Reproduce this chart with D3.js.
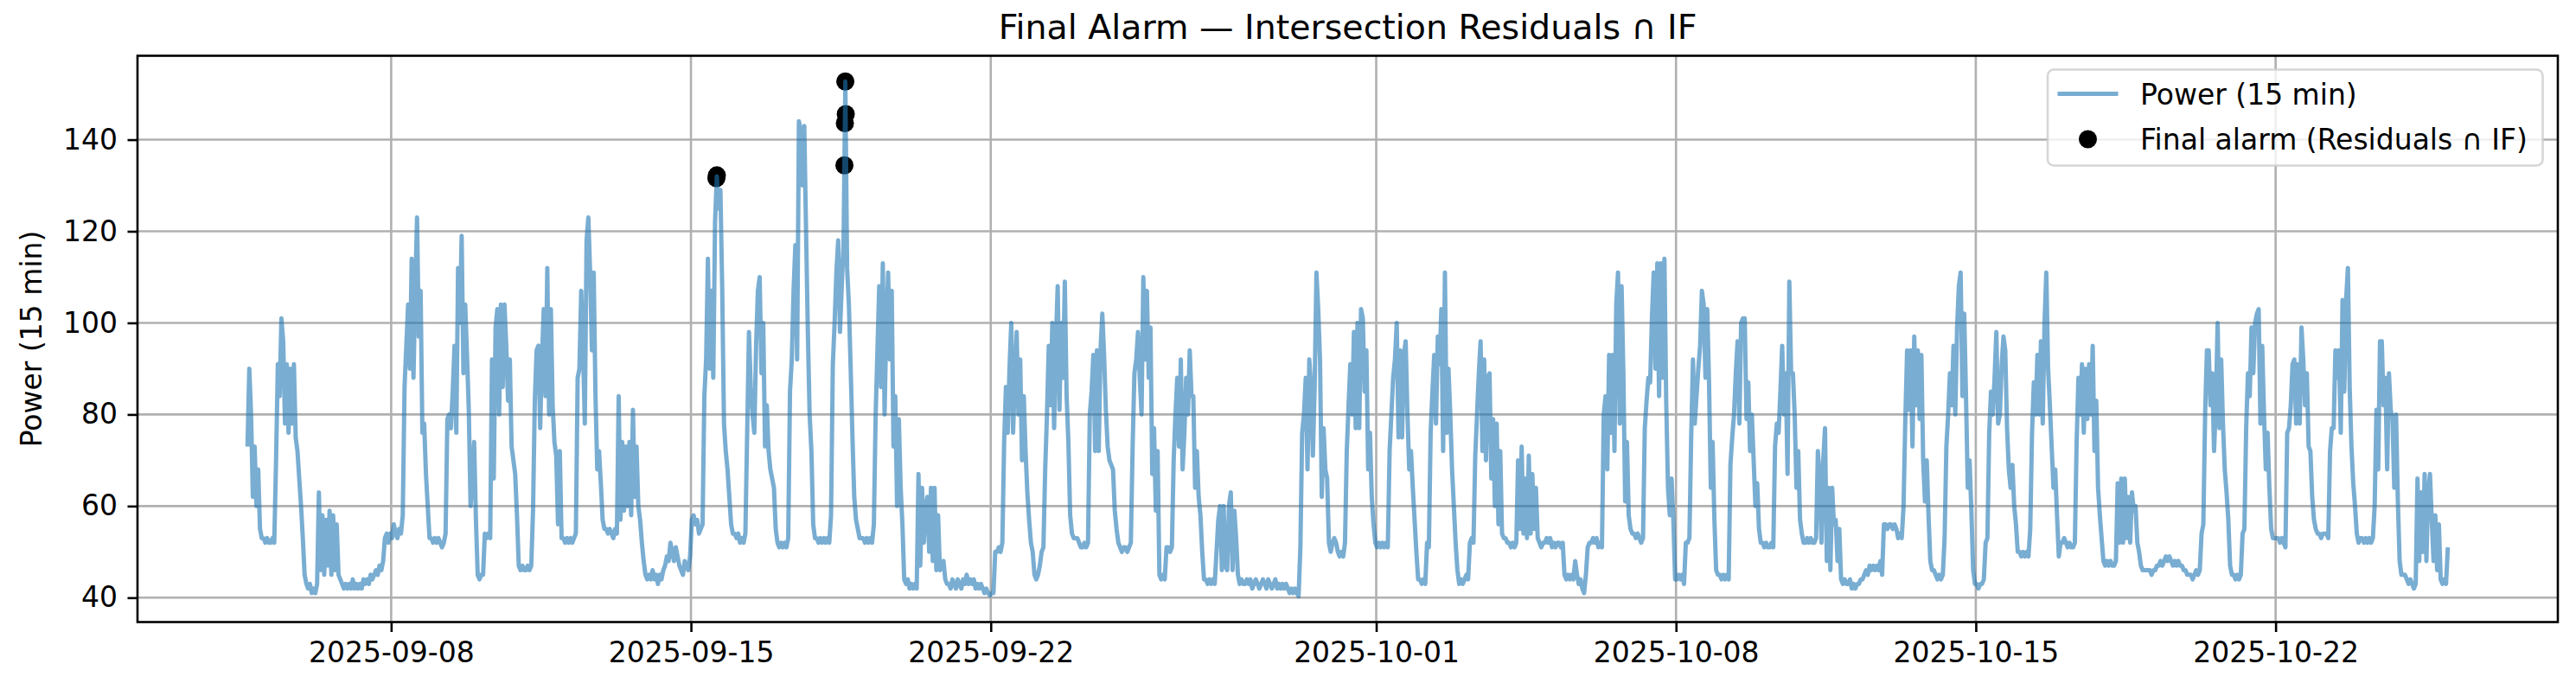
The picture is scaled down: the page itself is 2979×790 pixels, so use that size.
<!DOCTYPE html>
<html>
<head>
<meta charset="utf-8">
<script src="https://cdn.jsdelivr.net/npm/d3@7"></script>
<style>
body{margin:0;background:#fff;}
text{font-family:"DejaVu Sans",sans-serif;fill:#000;}
</style>
</head>
<body>
<svg id="chart" width="2979" height="790"></svg>
<script>
// hourly readings, value at hh:30 (UTC), first one 2025-09-04 15:30
var seriesStart=Date.UTC(2025,8,4,15,30);

var powerSep04to07=[
	73,90,80,62,73,60,68,55,53,
	53,52,53,52,52,53,52,70,91,84,101,96,78,91,76,90,78,91,75,72,66,60,53,45,
	43,42,43,41,42,41,43,63,46,58,45,57,47,59,45,58,46,56,45,44,43,42,43,42,
	43,42,44,42,43,42,43,42,44,43,44,43,45,44,45,46,45,47,46,48,53,54,52,54
];
var powerSep08to14=[
	53,56,54,53,55,54,58,86,95,104,90,114,88,107,123,97,107,76,78,67,60,53,53,52,
	53,52,53,52,51,52,54,79,80,77,85,95,76,112,100,119,89,104,93,81,60,66,74,57,
	45,44,45,45,54,53,54,53,92,66,99,103,80,104,86,104,95,83,92,73,70,67,58,47,
	46,47,46,46,47,46,47,59,83,94,95,77,92,103,84,112,80,103,82,74,71,56,72,53,
	53,52,53,52,53,52,53,54,88,90,107,95,78,118,123,111,94,111,84,68,72,65,57,55,
	55,54,55,54,53,55,54,84,57,74,59,73,60,74,58,81,62,73,60,57,52,48,45,44,
	45,44,46,44,45,43,45,44,46,47,49,48,52,50,48,51,49,47,46,45,48,47,46,49
];
var powerSep15to21=[
	57,58,56,57,54,55,56,84,92,114,90,107,88,122,132,125,129,108,78,72,68,62,56,54,
	54,53,54,52,53,52,54,76,98,86,80,76,95,107,110,89,100,73,82,72,68,66,64,55,
	52,51,52,51,52,51,53,85,92,107,117,92,144,142,130,143,120,98,80,72,56,53,53,52,
	53,52,53,52,53,52,58,91,100,111,118,98,108,117,152.7,112,104,90,75,62,57,55,53,53,
	53,52,53,52,53,52,56,80,94,108,86,113,80,100,111,92,107,73,84,60,79,64,56,44,
	43,44,42,43,42,43,42,67,47,64,52,60,62,50,64,48,64,46,58,46,47,48,44,43,
	43,42,44,43,42,44,43,42,44,43,45,43,44,43,44,42,43,42,43,42,41,42,41,40.5
];
var powerSep22to28=[
	41,41,50,50,51,50,52,74,86,76,90,100,76,88,98,80,92,70,84,72,63,57,52,50,
	45,44,45,47,50,51,68,80,95,82,100,77,96,108,81,100,88,109,84,74,58,54,53,53,
	53,52,51,51,52,51,52,80,85,93,72,94,72,94,102,93,81,73,70,69,68,59,55,52,
	51,50,51,51,50,51,52,73,89,92,98,88,80,110,92,107,88,99,67,77,59,72,45,44,
	45,44,51,51,50,51,70,80,88,73,92,68,76,88,80,94,84,84,64,72,62,58,50,44,
	44,43,44,43,44,43,50,57,60,46,60,47,46,60,63,46,59,53,45,43,44,43,43,44,
	43,44,42,43,44,43,42,43,44,43,42,44,43,42,43,44,42,43,42,43,42,43,42,41
];
var powerSep29toOct05=[
	42,41,42,41,40.3,51,76,80,88,68,92,86,71,86,111,103,92,62,77,68,66,52,50,52,
	53,52,50,49,50,49,52,72,82,91,80,98,77,100,77,103,101,85,94,68,76,62,56,52,
	51,52,51,52,51,52,51,72,80,88,92,100,75,94,75,93,96,80,68,72,64,57,50,44,
	44,43,44,43,52,51,76,85,93,78,97,91,103,72,111,76,90,80,68,60,52,46,43,44,
	43,44,45,44,52,53,52,71,80,89,96,72,92,70,88,89,66,79,60,78,56,72,54,53,
	53,52,52,51,52,51,52,70,55,73,54,66,53,71,54,67,55,64,53,52,51,52,52,53,
	52,53,51,52,51,52,52,51,52,45,44,45,44,45,44,48,45,43,44,42,41,45,51,52
];
var powerOct06to12=[
	52,53,52,53,51,52,51,80,84,68,93,76,93,72,104,111,78,108,89,61,74,58,55,54,
	54,53,54,53,52,53,77,83,88,87,101,111,90,113,84,113,88,114,83,64,58,66,57,44,
	44,45,44,45,43,52,52,53,75,92,78,84,90,95,107,104,88,103,87,64,74,57,46,45,
	45,44,45,44,45,44,69,75,80,89,96,78,100,101,101,79,87,72,80,70,60,65,55,52,
	52,51,52,51,51,52,51,73,78,76,85,95,80,89,67,109,89,89,80,64,72,57,54,52,
	52,53,52,53,52,52,53,72,66,52,70,77,48,64,46,64,56,57,48,55,44,43,44,43,
	43,44,42,43,42,43,43,44,44,45,46,45,47,46,47,46,47,46,48,45,56,56,55,56
];
var powerOct13to19=[
	56,55,56,55,53,54,53,60,79,94,81,94,73,97,82,94,79,93,70,61,70,58,48,46,
	46,45,44,45,44,45,53,73,80,89,82,95,80,99,108,111,84,102,84,64,70,59,46,43,
	43,42,43,43,44,52,53,76,85,80,88,98,78,80,91,97,94,77,68,64,69,60,56,50,
	50,49,50,49,50,49,55,76,87,80,93,80,96,78,100,111,90,82,73,64,68,58,49,52,
	52,53,52,51,52,51,51,52,74,88,80,91,76,90,79,91,80,95,72,83,64,58,53,48,
	47,48,47,48,47,47,48,65,52,66,52,66,53,62,52,63,59,60,52,50,47,46,46,46,
	46,46,45,46,46,47,47,48,47,48,49,48,49,48,47,48,47,48,47,47,46,46,45,45
];
var powerOct20to26=[
	45,44,45,46,45,46,54,56,80,94,94,82,89,72,82,100,77,92,78,68,63,57,47,45,
	45,44,45,44,45,54,55,77,89,84,99,89,100,102,103,78,95,80,68,76,64,55,53,53,
	53,53,52,53,52,51,76,77,82,91,92,78,91,78,99,92,82,89,73,72,62,57,55,54,
	54,53,54,54,54,53,72,77,77,94,88,94,76,105,85,105,112,86,73,65,60,54,52,53,
	53,52,53,52,53,52,53,60,81,68,96,96,82,88,68,89,81,79,64,80,61,48,45,45,
	45,44,43,44,43,42,43,66,48,63,50,67,48,63,67,57,48,58,46,56,44,43,44,43,
	51
];

// points flagged by both detectors
var alarmTimes=["2025-09-15T14:15","2025-09-15T14:30","2025-09-18T14:00","2025-09-18T14:15","2025-09-18T14:30","2025-09-18T14:45"];
var alarmValues=[131.6,132.2,134.4,143.6,152.7,145.6];

var xTickDates=["2025-09-08","2025-09-15","2025-09-22","2025-10-01","2025-10-08","2025-10-15","2025-10-22"];
var yTickValues=[40,60,80,100,120,140];

var titleText="Final Alarm — Intersection Residuals ∩ IF";
var yLabelText="Power (15 min)";
var legendLabels=["Power (15 min)","Final alarm (Residuals ∩ IF)"];

/////////////////////////// build series
var parseTime=d3.utcParse("%Y-%m-%dT%H:%M");
var parseDay=d3.utcParse("%Y-%m-%d");
var hour=3600*1000;

var powerValues=[].concat(powerSep04to07,powerSep08to14,powerSep15to21,powerSep22to28,
	powerSep29toOct05,powerOct06to12,powerOct13to19,powerOct20to26);
var powerData=powerValues.map(function(v,i){
	return {t:new Date(seriesStart+i*hour),v:v};
});
var alarmData=alarmTimes.map(function(s,i){
	return {t:parseTime(s),v:alarmValues[i]};
});

/////////////////////////// layout
var W=2979,H=790;
var margin={left:159,right:21,top:64.5,bottom:70.5};
var plotW=W-margin.left-margin.right;
var plotH=H-margin.top-margin.bottom;
var fontTick=33,fontTitle=39.5;
var tickLen=11.5,tickPad=11.5,lineW=2.6;

var svg=d3.select("#chart");
svg.append("rect").attr("width",W).attr("height",H).attr("fill","#fff");
var g=svg.append("g").attr("transform","translate("+margin.left+","+margin.top+")");

// matplotlib style 5% padding around the data
var tExt=d3.extent(powerData,function(d){return d.t;});
var tPad=(tExt[1]-tExt[0])*0.05;
var allV=powerValues.concat(alarmValues);
var vMin=d3.min(allV),vMax=d3.max(allV),vPad=(vMax-vMin)*0.05;

var x=d3.scaleUtc().domain([new Date(+tExt[0]-tPad),new Date(+tExt[1]+tPad)]).range([0,plotW]);
var y=d3.scaleLinear().domain([vMin-vPad,vMax+vPad]).range([plotH,0]);
var xTicks=xTickDates.map(parseDay);

//grid
g.append("g").attr("class","gridX")
	.selectAll("line").data(xTicks).enter().append("line")
	.attr("x1",function(d){return x(d);}).attr("x2",function(d){return x(d);})
	.attr("y1",0).attr("y2",plotH)
	.attr("stroke","#b0b0b0").attr("stroke-width",lineW);
g.append("g").attr("class","gridY")
	.selectAll("line").data(yTickValues).enter().append("line")
	.attr("y1",function(d){return y(d);}).attr("y2",function(d){return y(d);})
	.attr("x1",0).attr("x2",plotW)
	.attr("stroke","#b0b0b0").attr("stroke-width",lineW);

//alarm dots go under the line, like matplotlib collections
g.append("g").attr("class","alarms")
	.selectAll("circle").data(alarmData).enter().append("circle")
	.attr("cx",function(d){return x(d.t);})
	.attr("cy",function(d){return y(d.v);})
	.attr("r",10.5)
	.attr("fill","#000");

var line=d3.line().x(function(d){return x(d.t);}).y(function(d){return y(d.v);});
g.append("path").datum(powerData)
	.attr("d",line)
	.attr("fill","none")
	.attr("stroke","#1f77b4")
	.attr("stroke-opacity",0.6)
	.attr("stroke-width",5)
	.attr("stroke-linejoin","round");

//axes
var xAxis=d3.axisBottom(x).tickValues(xTicks).tickFormat(d3.utcFormat("%Y-%m-%d"))
	.tickSize(tickLen).tickPadding(tickPad);
var yAxis=d3.axisLeft(y).tickValues(yTickValues).tickFormat(d3.format("d"))
	.tickSize(tickLen).tickPadding(tickPad);

var gx=g.append("g").attr("transform","translate(0,"+plotH+")").call(xAxis);
var gy=g.append("g").call(yAxis);
[gx,gy].forEach(function(a){
	a.select(".domain").remove();
	a.selectAll(".tick line").attr("stroke","#000").attr("stroke-width",lineW);
	a.selectAll(".tick text").attr("font-size",fontTick).attr("font-family","DejaVu Sans").attr("fill","#000");
});

//frame (spines)
g.append("rect").attr("width",plotW).attr("height",plotH)
	.attr("fill","none").attr("stroke","#000").attr("stroke-width",lineW);

//title + y label
svg.append("text")
	.attr("x",margin.left+plotW/2).attr("y",margin.top-19.5)
	.attr("text-anchor","middle").attr("font-size",fontTitle)
	.text(titleText);
svg.append("text")
	.attr("transform","translate(48,"+(margin.top+plotH/2)+") rotate(-90)")
	.attr("text-anchor","middle").attr("font-size",fontTick)
	.text(yLabelText);

/////////////////////////// legend
var lg=svg.append("g").attr("transform","translate(2368,80.5)");
lg.append("rect").attr("width",572.5).attr("height",111).attr("rx",7)
	.attr("fill","#fff").attr("fill-opacity",0.8)
	.attr("stroke","#cccccc").attr("stroke-opacity",0.8).attr("stroke-width",2.6);
lg.append("line").attr("x1",11.5).attr("x2",81.5).attr("y1",28).attr("y2",28)
	.attr("stroke","#1f77b4").attr("stroke-opacity",0.6).attr("stroke-width",5);
lg.append("circle").attr("cx",46.5).attr("cy",80.5).attr("r",10.5).attr("fill","#000");
lg.selectAll("text.lab").data(legendLabels).enter().append("text")
	.attr("class","lab")
	.attr("x",107).attr("y",function(d,i){return 40+i*52.5;})
	.attr("font-size",fontTick)
	.text(function(d){return d;});
</script>
</body>
</html>
